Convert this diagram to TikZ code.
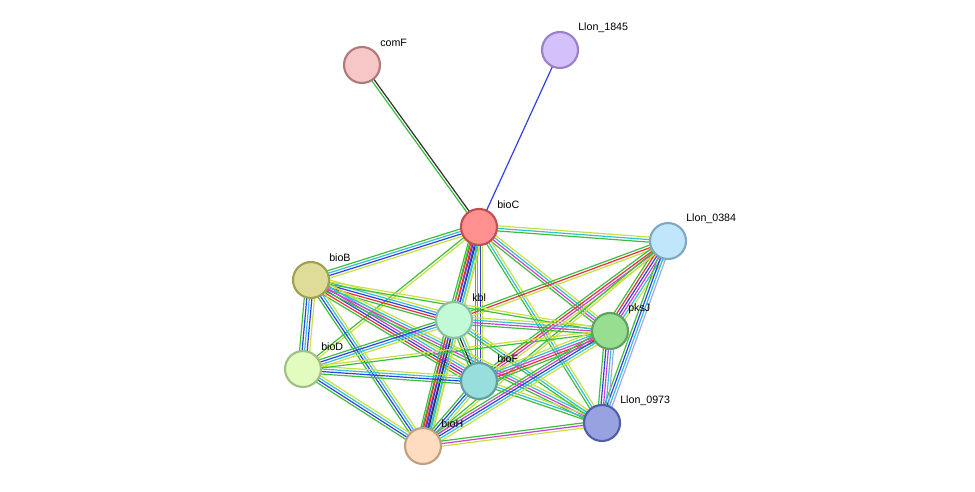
\documentclass[tikz,border=0pt]{standalone}
\usepackage{fontspec}
\setmainfont{Liberation Sans}
\usetikzlibrary{positioning,calc}

\definecolor{cNb}{HTML}{3DBE3D}
\definecolor{cFu}{HTML}{E8303A}
\definecolor{cCo}{HTML}{3040E8}
\definecolor{cCe}{HTML}{303030}
\definecolor{cEx}{HTML}{D040D0}
\definecolor{cDb}{HTML}{30C0D8}
\definecolor{cTm}{HTML}{C8E040}
\definecolor{cHo}{HTML}{A0A8E8}

% one parallel bundle of evidence lines between two centres
\newcommand{\evid}[3]{%
  \foreach \col [count=\i] in {#3} {\xdef\nlines{\i}}%
  \foreach \col [count=\i] in {#3} {%
    \pgfmathsetmacro{\off}{(\i-(\nlines+1)/2)*1.9}%
    \draw[\col,line width=0.9pt] ($(#1)!\off pt!90:(#2)$) -- ($(#2)!\off pt!-90:(#1)$);
  }%
}

\tikzset{
  prot/.style={circle,minimum size=27pt,inner sep=0pt,line width=1.6pt},
  lbl/.style={font=\fontsize{8}{9}\selectfont,anchor=west,inner sep=0pt}
}

\begin{document}
\begin{tikzpicture}[x=0.75pt,y=-0.75pt]
\useasboundingbox (0,0) rectangle (975,492);

\coordinate (p-comF) at (362,65);
\coordinate (p-l1845) at (560,50);
\coordinate (p-bioC) at (479,227);
\coordinate (p-l0384) at (668,241);
\coordinate (p-bioB) at (311,280);
\coordinate (p-kbl) at (454,320);
\coordinate (p-pksJ) at (610,331);
\coordinate (p-bioD) at (303,369);
\coordinate (p-bioF) at (479,381);
\coordinate (p-l0973) at (602,423);
\coordinate (p-bioH) at (423,446);

% edges
\evid{p-comF}{p-bioC}{cNb,cCe}
\evid{p-l1845}{p-bioC}{cCo}
\evid{p-bioC}{p-l0384}{cNb,cDb,cTm}
\evid{p-bioC}{p-bioB}{cNb,cDb,cCo,cTm}
\evid{p-bioC}{p-kbl}{cNb,cFu,cCo,cCe,cDb,cTm}
\evid{p-bioC}{p-bioD}{cNb,cTm}
\evid{p-bioC}{p-bioF}{cNb,cDb,cCo,cTm}
\evid{p-bioC}{p-bioH}{cNb,cFu,cCo,cDb,cTm}
\evid{p-bioC}{p-pksJ}{cNb,cEx,cDb,cTm}
\evid{p-bioC}{p-l0973}{cNb,cDb,cTm}
\evid{p-l0384}{p-kbl}{cNb,cFu,cTm}
\evid{p-l0384}{p-bioF}{cNb,cFu,cEx,cTm}
\evid{p-l0384}{p-pksJ}{cNb,cFu,cCo,cEx,cDb,cTm}
\evid{p-l0384}{p-l0973}{cNb,cCo,cDb,cHo}
\evid{p-l0384}{p-bioH}{cNb,cTm}
\evid{p-bioB}{p-bioD}{cNb,cCo,cDb,cCo,cTm}
\evid{p-bioB}{p-kbl}{cNb,cFu,cCo,cDb,cTm}
\evid{p-bioB}{p-bioF}{cNb,cFu,cCo,cEx,cDb,cTm}
\evid{p-bioB}{p-bioH}{cNb,cCo,cDb,cTm}
\evid{p-bioB}{p-pksJ}{cNb,cTm}
\evid{p-bioB}{p-l0973}{cNb,cEx,cDb,cTm}
\evid{p-kbl}{p-bioD}{cNb,cCo,cDb,cTm}
\evid{p-kbl}{p-bioF}{cNb,cCe,cDb,cTm}
\evid{p-kbl}{p-bioH}{cNb,cFu,cCo,cCe,cDb,cTm}
\evid{p-kbl}{p-pksJ}{cNb,cEx,cDb,cTm}
\evid{p-kbl}{p-l0973}{cNb,cDb,cTm}
\evid{p-bioD}{p-bioF}{cNb,cCo,cDb,cTm}
\evid{p-bioD}{p-bioH}{cNb,cCo,cDb,cTm}
\evid{p-bioD}{p-pksJ}{cNb,cTm}
\evid{p-bioF}{p-pksJ}{cNb,cFu,cEx,cDb,cTm}
\evid{p-bioF}{p-l0973}{cNb,cDb,cTm}
\evid{p-bioF}{p-bioH}{cNb,cCo,cDb,cTm}
\evid{p-pksJ}{p-bioH}{cNb,cEx,cCo,cDb,cTm}
\evid{p-pksJ}{p-l0973}{cNb,cCo,cEx,cDb,cHo}
\evid{p-l0973}{p-bioH}{cNb,cEx,cTm}

% proteins
\node[prot,fill={rgb,255:red,247;green,198;blue,198},draw={rgb,255:red,176;green,122;blue,122}] (comF) at (p-comF) {};
\node[prot,fill={rgb,255:red,212;green,192;blue,250},draw={rgb,255:red,154;green,128;blue,200}] (l1845) at (p-l1845) {};
\node[prot,fill={rgb,255:red,255;green,144;blue,144},draw={rgb,255:red,192;green,80;blue,80}] (bioC) at (p-bioC) {};
\node[prot,fill={rgb,255:red,191;green,230;blue,250},draw={rgb,255:red,128;green,168;blue,192}] (l0384) at (p-l0384) {};
\node[prot,fill={rgb,255:red,222;green,220;blue,152},draw={rgb,255:red,160;green,160;blue,80}] (bioB) at (p-bioB) {};
\node[prot,fill={rgb,255:red,194;green,250;blue,216},draw={rgb,255:red,136;green,192;blue,160}] (kbl) at (p-kbl) {};
\node[prot,fill={rgb,255:red,152;green,222;blue,144},draw={rgb,255:red,96;green,160;blue,96}] (pksJ) at (p-pksJ) {};
\node[prot,fill={rgb,255:red,226;green,252;blue,192},draw={rgb,255:red,160;green,192;blue,128}] (bioD) at (p-bioD) {};
\node[prot,fill={rgb,255:red,152;green,222;blue,220},draw={rgb,255:red,96;green,160;blue,160}] (bioF) at (p-bioF) {};
\node[prot,fill={rgb,255:red,152;green,162;blue,224},draw={rgb,255:red,80;green,96;blue,168}] (l0973) at (p-l0973) {};
\node[prot,fill={rgb,255:red,254;green,220;blue,192},draw={rgb,255:red,192;green,160;blue,128}] (bioH) at (p-bioH) {};

% labels
\node[lbl] (comF-l) at ([shift={(18,-22)}]comF.center) {comF};
\node[lbl] (l1845-l) at ([shift={(18,-22)}]l1845.center) {Llon\_1845};
\node[lbl] (bioC-l) at ([shift={(18,-22)}]bioC.center) {bioC};
\node[lbl] (l0384-l) at ([shift={(18,-22)}]l0384.center) {Llon\_0384};
\node[lbl] (bioB-l) at ([shift={(18,-22)}]bioB.center) {bioB};
\node[lbl] (kbl-l) at ([shift={(18,-22)}]kbl.center) {kbl};
\node[lbl] (pksJ-l) at ([shift={(18,-22)}]pksJ.center) {pksJ};
\node[lbl] (bioD-l) at ([shift={(18,-22)}]bioD.center) {bioD};
\node[lbl] (bioF-l) at ([shift={(18,-22)}]bioF.center) {bioF};
\node[lbl] (l0973-l) at ([shift={(18,-22)}]l0973.center) {Llon\_0973};
\node[lbl] (bioH-l) at ([shift={(18,-22)}]bioH.center) {bioH};
\end{tikzpicture}
\end{document}
